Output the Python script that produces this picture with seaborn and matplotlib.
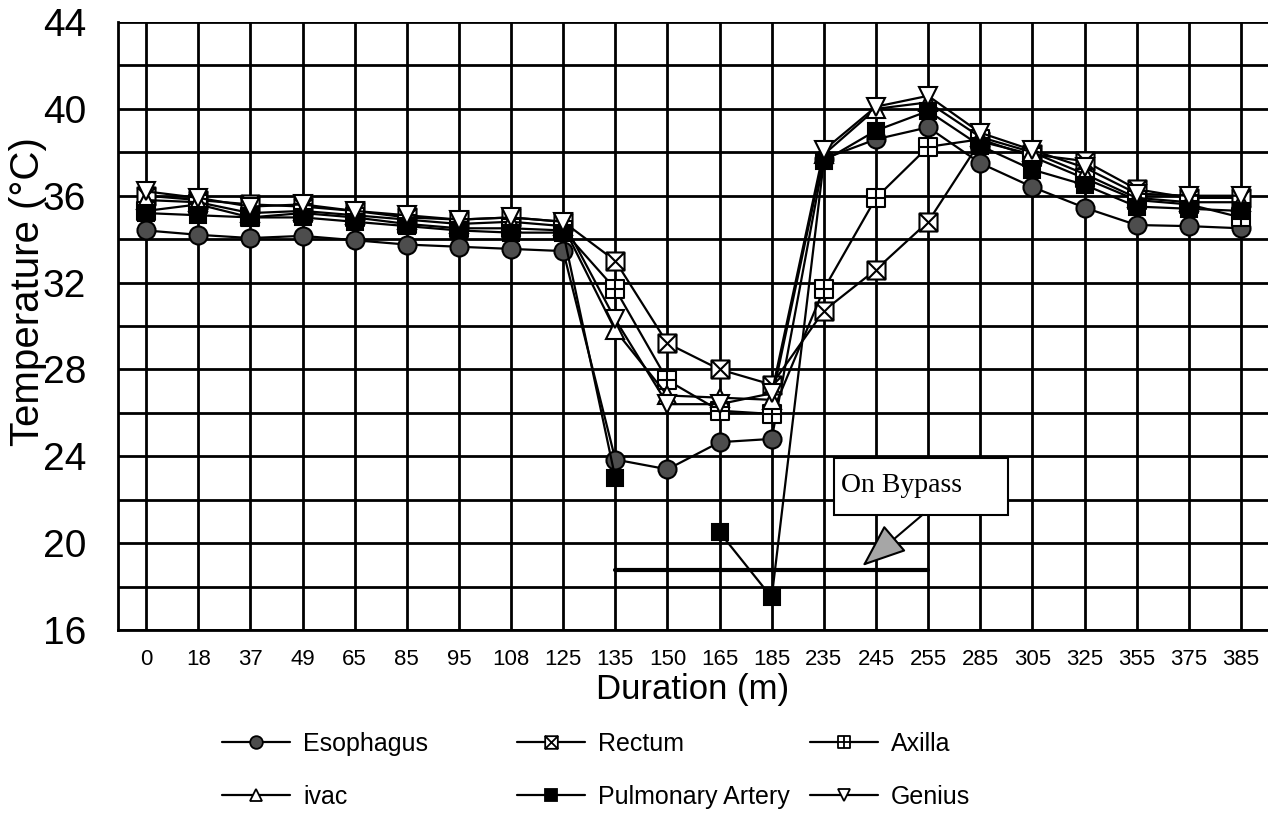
import numpy as np
import pandas as pd
import seaborn as sns
import matplotlib.pyplot as plt
from matplotlib.path import Path
from matplotlib.lines import Line2D
from matplotlib.patches import Rectangle
from matplotlib.ticker import MultipleLocator

# data
durations = [0, 18, 37, 49, 65, 85, 95, 108, 125, 135, 150, 165, 185,
             235, 245, 255, 285, 305, 325, 355, 375, 385]
esophagus = [34.4, 34.2, 34.05, 34.15, 33.95, 33.75, 33.65, 33.55, 33.45, 23.85, 23.4,
             24.65, 24.8, 37.7, 38.6, 39.15, 37.5, 36.4, 35.45, 34.65, 34.6, 34.5]
rectum = [36.0, 35.8, 35.6, 35.5, 35.3, 35.0, 34.9, 35.0, 34.8, 33.0, 29.2,
          28.0, 27.3, 30.7, 32.6, 34.8, 38.5, 37.9, 37.6, 36.3, 35.9, 35.9]
axilla = [35.3, 35.6, 35.0, 35.2, 35.0, 34.7, 34.5, 34.5, 34.4, 31.7, 27.5,
          26.1, 25.95, 31.7, 35.9, 38.25, 38.6, 37.8, 36.8, 35.8, 35.6, 35.0]
ivac = [35.8, 35.7, 35.2, 35.3, 35.1, 34.9, 34.7, 34.8, 34.6, 29.8, 26.8,
        26.7, 26.6, 37.9, 40.0, 40.3, 38.7, 38.0, 37.0, 35.9, 35.7, 35.7]
pulmonary = [35.2, 35.1, 35.0, 35.0, 34.8, 34.6, 34.4, 34.3, 34.3, 23.0, np.nan,
             20.5, 17.5, 37.6, 39.0, 39.9, 38.3, 37.2, 36.5, 35.5, 35.4, 35.3]
genius = [36.2, 35.9, 35.5, 35.6, 35.3, 35.1, 34.9, 35.0, 34.8, 30.3, 26.4,
          26.4, 26.9, 38.1, 40.1, 40.6, 38.9, 38.1, 37.3, 36.1, 36.0, 36.0]

bypass_from, bypass_to, bypass_level = 135, 255, 18.75

# square with X and square with + markers
sq = [(-1, -1), (1, -1), (1, 1), (-1, 1), (-1, -1)]
sq_codes = [Path.MOVETO, Path.LINETO, Path.LINETO, Path.LINETO, Path.CLOSEPOLY]
box_x = Path(sq + [(-1, -1), (1, 1), (-1, 1), (1, -1)],
             sq_codes + [Path.MOVETO, Path.LINETO, Path.MOVETO, Path.LINETO])
box_plus = Path(sq + [(0, -1), (0, 1), (-1, 0), (1, 0)],
                sq_codes + [Path.MOVETO, Path.LINETO, Path.MOVETO, Path.LINETO])

series = [
    ('Esophagus', esophagus, 'o', '0.3', 13),
    ('Rectum', rectum, box_x, 'white', 13),
    ('Axilla', axilla, box_plus, 'white', 13),
    ('ivac', ivac, '^', 'white', 13),
    ('Pulmonary Artery', pulmonary, 's', 'black', 12),
    ('Genius', genius, 'v', 'white', 13),
]

sns.set_style('white')
plt.rcParams['font.family'] = ['Liberation Sans', 'DejaVu Sans']
plt.rcParams['text.color'] = 'black'
plt.rcParams['axes.labelcolor'] = 'black'
plt.rcParams['xtick.color'] = 'black'
plt.rcParams['ytick.color'] = 'black'

fig = plt.figure(figsize=(12.68, 8.17), dpi=100)
ax = fig.add_axes([118 / 1268, 1 - 630 / 817, 1150 / 1268, 608 / 817])

pos = np.arange(len(durations))
for name, vals, mk, face, ms in series:
    d = pd.DataFrame({'x': pos, 'temp': vals})
    d['seg'] = d['temp'].isna().cumsum()
    d = d.dropna()
    sns.lineplot(data=d, x='x', y='temp', units='seg', estimator=None, ax=ax,
                 color='black', lw=1.6, marker=mk, markersize=ms,
                 mfc=face, mec='black', mew=1.5, legend=False, zorder=3)

# on bypass marker line
i0, i1 = durations.index(bypass_from), durations.index(bypass_to)
ax.plot([i0, i1], [bypass_level, bypass_level], color='black', lw=3, zorder=2)

ax.add_patch(Rectangle((13.19, 21.28), 3.34, 2.62, facecolor='white',
                       edgecolor='black', lw=1.5, zorder=4))
ax.text(13.32, 22.65, 'On Bypass', family=['Liberation Serif', 'DejaVu Serif'],
        fontsize=20, ha='left', va='center', zorder=5)
ax.annotate('', xy=(13.74, 18.95), xytext=(14.89, 21.3),
            arrowprops=dict(arrowstyle='-|>,head_length=1.4,head_width=0.55',
                            mutation_scale=20, fc='0.65', ec='black', lw=1.5,
                            shrinkA=0, shrinkB=0), zorder=5)

ax.set_xlim(-0.54, len(durations) - 0.48)
ax.set_ylim(16, 44)
ax.set_xticks(pos)
ax.set_xticklabels([str(v) for v in durations], fontsize=16)
ax.yaxis.set_major_locator(MultipleLocator(4))
ax.yaxis.set_minor_locator(MultipleLocator(2))
ax.tick_params(axis='y', which='major', labelsize=28, length=11, width=2,
               direction='out', pad=12)
ax.tick_params(axis='y', which='minor', length=5, width=2, direction='out')
ax.tick_params(axis='x', length=10, width=2, direction='out', pad=4)

ax.grid(axis='x', color='black', lw=2)
ax.grid(axis='y', which='both', color='black', lw=2)
ax.get_ygridlines()[-1].set_visible(False)
ax.set_axisbelow(True)

for s in ['top', 'right']:
    ax.spines[s].set_visible(False)
for s in ['left', 'bottom']:
    ax.spines[s].set_color('black')
    ax.spines[s].set_linewidth(2)

ax.set_xlabel('Duration (m)', fontsize=25)
ax.set_ylabel('Temperature (°C)', fontsize=29)
ax.xaxis.set_label_coords(0.5, -0.07)
ax.yaxis.set_label_coords(-0.062, 0.556)

# legend in three columns
handles = [Line2D([], [], color='black', lw=1.6, marker=mk, markersize=ms * 0.7,
                  mfc=face, mec='black', mew=1.3) for _, _, mk, face, ms in series]
names = [s[0] for s in series]
cols = [(0, 3), (1, 4), (2, 5)]
col_x = [222 / 1268, 517 / 1268, 810 / 1268]
for (a, b), x in zip(cols, col_x):
    fig.legend([handles[a], handles[b]], [names[a], names[b]], loc='upper left',
               bbox_to_anchor=(x, 1 - 732 / 817), frameon=False, borderpad=0,
               borderaxespad=0, handlelength=2.7, handletextpad=0.55,
               labelspacing=1.15, prop={'size': 18})

fig.savefig('out.png', dpi=100)
